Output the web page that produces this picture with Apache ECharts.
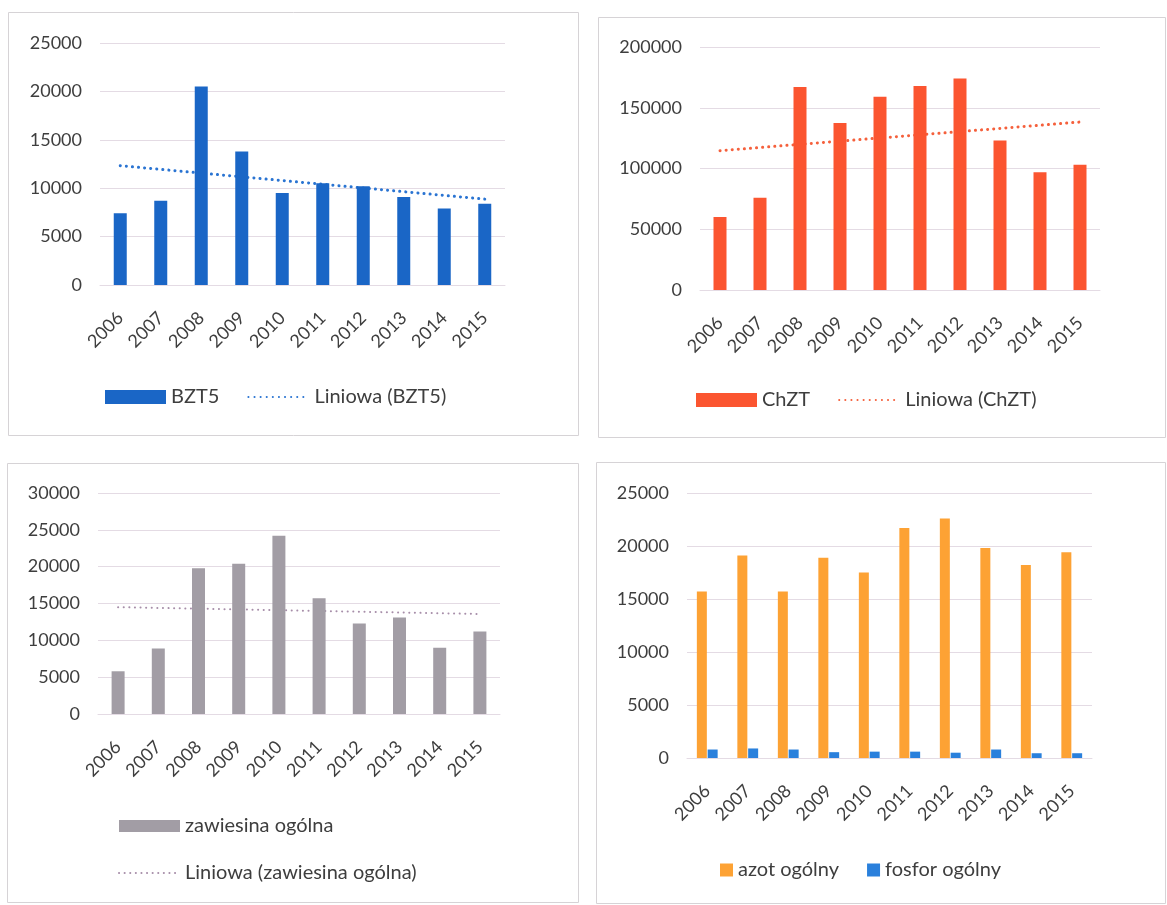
<!DOCTYPE html>
<html>
<head>
<meta charset="utf-8">
<script src="https://cdn.jsdelivr.net/npm/echarts@6/dist/echarts.min.js"></script>
<style>
  html, body { margin: 0; padding: 0; background: #ffffff; }
  #chart { width: 1167px; height: 905px; }
</style>
</head>
<body>
<div id="chart"></div>
<script>
// Ładunki zanieczyszczeń w latach 2006–2015
const years = ['2006', '2007', '2008', '2009', '2010', '2011', '2012', '2013', '2014', '2015'];

const bzt5 = [7400, 8700, 20500, 13800, 9500, 10500, 10200, 9100, 7900, 8400];
const chzt = [60000, 76000, 167000, 137500, 159000, 168000, 174000, 123000, 97000, 103000];
const zawiesina = [5800, 8900, 19800, 20400, 24200, 15700, 12300, 13100, 9000, 11200];
const azot = [15700, 19100, 15700, 18900, 17500, 21700, 22600, 19800, 18200, 19400];
const fosfor = [800, 900, 800, 550, 600, 600, 500, 800, 450, 450];

const yTicksBzt5 = { max: 25000, interval: 5000 };
const yTicksChzt = { max: 200000, interval: 50000 };
const yTicksZaw = { max: 30000, interval: 5000 };
const yTicksAzot = { max: 25000, interval: 5000 };

// Liniowa linia trendu (metoda najmniejszych kwadratów), jak w arkuszu
function linearTrend(values) {
  const n = values.length;
  const mx = (n - 1) / 2;
  const my = values.reduce((a, b) => a + b, 0) / n;
  let sxy = 0, sxx = 0;
  values.forEach((v, i) => { sxy += (i - mx) * (v - my); sxx += (i - mx) * (i - mx); });
  const slope = sxy / sxx;
  return values.map((_, i) => my + slope * (i - mx));
}

const FONT = 'Lato';
const TXT = '#3e3e3e';
const GRID_LINE = '#e4dbe4';

const grids = [
  { left: 100, top: 43, width: 405, height: 242 },
  { left: 700, top: 47, width: 400, height: 243 },
  { left: 98, top: 493, width: 402, height: 221 },
  { left: 687, top: 493, width: 405, height: 265 }
];

function xAxis(i) {
  return {
    type: 'category', gridIndex: i, data: years, boundaryGap: true,
    axisLine: { show: true, lineStyle: { color: GRID_LINE, width: 1 } },
    axisTick: { show: false },
    axisLabel: { rotate: 45, margin: 30, interval: 0, color: TXT, fontFamily: FONT, fontSize: 18 }
  };
}
function yAxis(i, ticks) {
  return {
    type: 'value', gridIndex: i, min: 0, max: ticks.max, interval: ticks.interval,
    axisLine: { show: false }, axisTick: { show: false },
    splitLine: { show: true, lineStyle: { color: GRID_LINE, width: 1 } },
    axisLabel: { margin: 18, color: TXT, fontFamily: FONT, fontSize: 18, formatter: v => String(v) }
  };
}

const legendText = { color: TXT, fontFamily: FONT, fontSize: 20 };
// pozycja legendy linii trendu: sama kropkowana linia, bez znacznika
const trendLegendItem = name => ({ name: name, itemStyle: { opacity: 0 } });

function trendLine(name, data, idx, color, width, period) {
  return {
    name: name, type: 'line', xAxisIndex: idx, yAxisIndex: idx,
    data: linearTrend(data), symbol: 'none', z: 1, silent: true,
    lineStyle: { color: color, width: width, type: [0.1, period], cap: 'round' },
    itemStyle: { color: color }
  };
}

const panels = [
  { x: 8, y: 12, w: 570, h: 423 },
  { x: 598, y: 17, w: 567, h: 420 },
  { x: 7, y: 463, w: 571, h: 439 },
  { x: 596, y: 462, w: 569, h: 441 }
];

const option = {
  backgroundColor: '#ffffff',
  animation: false,
  graphic: panels.map(p => ({
    type: 'rect', z: -10, silent: true,
    shape: { x: p.x + 0.5, y: p.y + 0.5, width: p.w, height: p.h },
    style: { fill: '#ffffff', stroke: '#d6d3d6', lineWidth: 1 }
  })),
  grid: grids,
  xAxis: [xAxis(0), xAxis(1), xAxis(2), xAxis(3)],
  yAxis: [yAxis(0, yTicksBzt5), yAxis(1, yTicksChzt), yAxis(2, yTicksZaw), yAxis(3, yTicksAzot)],
  legend: [
    {
      left: 105, top: 387, padding: 0, itemGap: 28, itemWidth: 61, itemHeight: 14,
      textStyle: legendText,
      data: [{ name: 'BZT5', icon: 'rect' }, trendLegendItem('Liniowa (BZT5)')]
    },
    {
      left: 696, top: 390, padding: 0, itemGap: 28, itemWidth: 61, itemHeight: 14,
      textStyle: legendText,
      data: [{ name: 'ChZT', icon: 'rect' }, trendLegendItem('Liniowa (ChZT)')]
    },
    {
      left: 118, top: 816, padding: 0, orient: 'vertical', itemGap: 27, itemWidth: 61, itemHeight: 12,
      textStyle: legendText,
      data: [{ name: 'zawiesina ogólna', icon: 'rect' }, trendLegendItem('Liniowa (zawiesina ogólna)')]
    },
    {
      left: 720, top: 860, padding: 0, itemGap: 28, itemWidth: 13, itemHeight: 13,
      textStyle: legendText,
      data: [{ name: 'azot ogólny', icon: 'rect' }, { name: 'fosfor ogólny', icon: 'rect' }]
    }
  ],
  series: [
    { name: 'BZT5', type: 'bar', xAxisIndex: 0, yAxisIndex: 0, data: bzt5, barWidth: 13, z: 2,
      itemStyle: { color: '#1a66c6' } },
    trendLine('Liniowa (BZT5)', bzt5, 0, '#2a74d2', 3, 6),

    { name: 'ChZT', type: 'bar', xAxisIndex: 1, yAxisIndex: 1, data: chzt, barWidth: 13, z: 2,
      itemStyle: { color: '#fb5530' } },
    trendLine('Liniowa (ChZT)', chzt, 1, '#f5603c', 3, 6),

    { name: 'zawiesina ogólna', type: 'bar', xAxisIndex: 2, yAxisIndex: 2, data: zawiesina, barWidth: 13, z: 2,
      itemStyle: { color: '#a29da5' } },
    trendLine('Liniowa (zawiesina ogólna)', zawiesina, 2, '#a78ea9', 2, 5.5),

    { name: 'azot ogólny', type: 'bar', xAxisIndex: 3, yAxisIndex: 3, data: azot, barWidth: 10, barGap: '8%', z: 2,
      itemStyle: { color: '#fda234' } },
    { name: 'fosfor ogólny', type: 'bar', xAxisIndex: 3, yAxisIndex: 3, data: fosfor, barWidth: 10, barGap: '8%', z: 2,
      itemStyle: { color: '#2a80dc' } }
  ]
};

const chart = echarts.init(document.getElementById('chart'), null, { renderer: 'canvas' });
chart.setOption(option);
</script>
</body>
</html>
